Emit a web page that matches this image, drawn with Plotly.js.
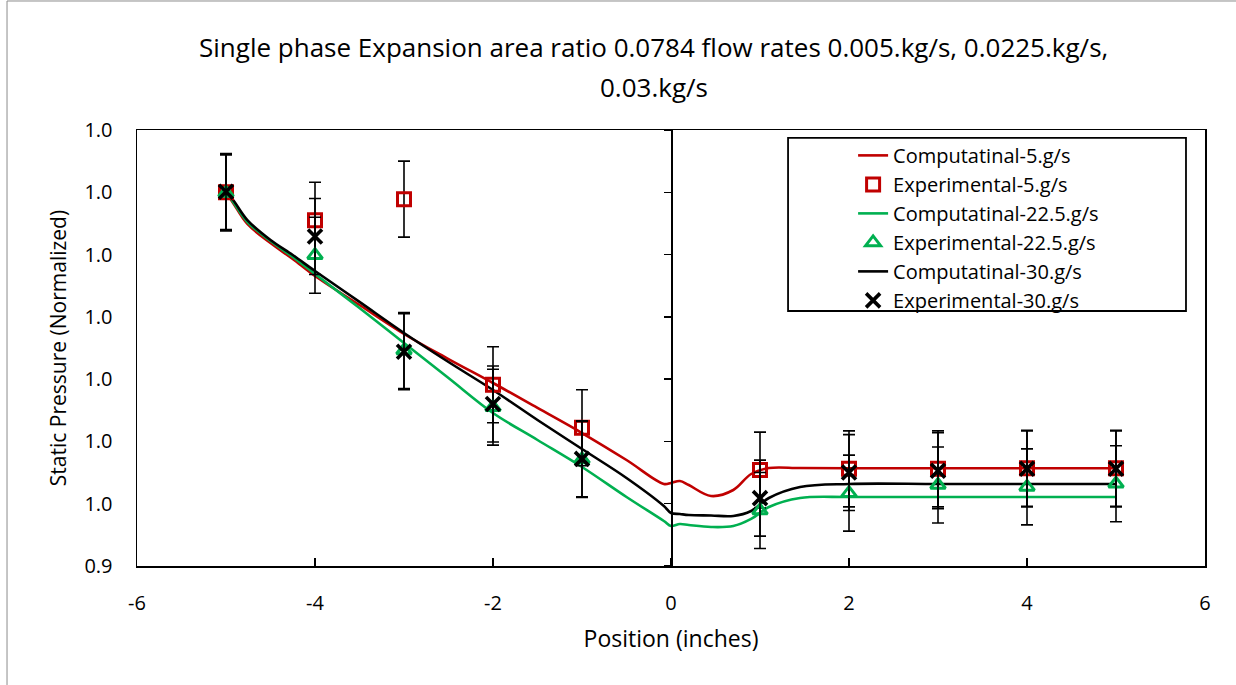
<!DOCTYPE html>
<html>
<head>
<meta charset="utf-8">
<script src="https://cdn.plot.ly/plotly-3.0.1.min.js"></script>
<style>html,body{margin:0;padding:0;background:#fff;}#chart{width:1236px;height:685px;}</style>
</head>
<body>
<div id="chart"></div>
<script>
// ---- Experimental data ----
const expX = [-5, -4, -3, -2, -1, 1, 2, 3, 4, 5];
const exp5 = [1.0000, 0.9955, 0.9989, 0.9691, 0.9622, 0.9554, 0.9556, 0.9556, 0.9557, 0.9557];
const exp225 = [0.9999, 0.9899, 0.9746, 0.9655, 0.9571, 0.9489, 0.9517, 0.9530, 0.9527, 0.9532];
const exp30 = [1.0001, 0.9929, 0.9744, 0.9660, 0.9572, 0.9509, 0.9550, 0.9553, 0.9556, 0.9556];
const err5 = [0.0061, 0.0061, 0.0061, 0.0061, 0.0061, 0.0061, 0.0061, 0.0061, 0.0061, 0.0061];
const err225 = [0.0061, 0.0061, 0.0061, 0.0061, 0.0061, 0.0061, 0.0061, 0.0061, 0.0061, 0.0061];
const err30 = [0.0061, 0.0061, 0.0061, 0.0061, 0.0061, 0.0061, 0.0061, 0.0061, 0.0061, 0.0061];

// ---- Computational curves ----
const compX = [-5, -4.92, -4.76, -4.5, -4.25, -4, -3.5, -3, -2.5, -2, -1.5, -1, -0.5, -0.08, 0, 0.1, 0.2, 0.45, 0.7, 0.9, 1.1, 1.45, 2, 3, 4, 5];
const comp5 = [1.0000, 0.99828, 0.99491, 0.99186, 0.98929, 0.98656, 0.98190, 0.97725, 0.97323, 0.96938, 0.96537, 0.96135, 0.95702, 0.95317, 0.95333, 0.95365, 0.95300, 0.95124, 0.95220, 0.95477, 0.95573, 0.95573, 0.9557, 0.9557, 0.9557, 0.9557];
const comp225 = [1.0000, 0.99844, 0.99523, 0.99218, 0.98961, 0.98688, 0.98142, 0.97580, 0.97018, 0.96456, 0.96023, 0.95590, 0.95108, 0.94722, 0.94642, 0.94674, 0.94658, 0.94626, 0.94642, 0.94755, 0.94947, 0.95092, 0.95108, 0.95108, 0.95108, 0.95108];
const comp30 = [1.0000, 0.99876, 0.99555, 0.99234, 0.98993, 0.98736, 0.98240, 0.97741, 0.97275, 0.96826, 0.96344, 0.95878, 0.95413, 0.94963, 0.94851, 0.94835, 0.94819, 0.94811, 0.94803, 0.94883, 0.95092, 0.95268, 0.95317, 0.95317, 0.95317, 0.95317];

// ---- Axis ticks ----
const xTickVals = [-6, -4, -2, 0, 2, 4, 6];
const xTickText = ["-6", "-4", "-2", "0", "2", "4", "6"];
const yTickVals = [0.94, 0.95, 0.96, 0.97, 0.98, 0.99, 1.00, 1.01];
const yTickText = ["0.9", "1.0", "1.0", "1.0", "1.0", "1.0", "1.0", "1.0"];

const RED = '#C00000', GREEN = '#00B050', BLACK = '#000000';
const FONT = '"Open Sans", "Noto Sans", sans-serif';

function errs(arr) {
  return {type: 'data', array: arr, visible: true, color: BLACK, thickness: 1.6, width: 6};
}

const traces = [
  {x: compX, y: comp5, mode: 'lines', name: 'Computatinal-5.g/s', legendrank: 1,
   line: {color: RED, width: 2.6, shape: 'spline', smoothing: 1.0}},
  {x: compX, y: comp225, mode: 'lines', name: 'Computatinal-22.5.g/s', legendrank: 3,
   line: {color: GREEN, width: 2.6, shape: 'spline', smoothing: 1.0}},
  {x: compX, y: comp30, mode: 'lines', name: 'Computatinal-30.g/s', legendrank: 5,
   line: {color: BLACK, width: 2.6, shape: 'spline', smoothing: 1.0}},
  {x: expX, y: exp5, mode: 'markers', name: 'Experimental-5.g/s', legendrank: 2,
   error_y: errs(err5),
   marker: {symbol: 'square-open', size: 13, color: RED, line: {color: RED, width: 3}}},
  {x: expX, y: exp225, mode: 'markers', name: 'Experimental-22.5.g/s', legendrank: 4,
   error_y: errs(err225),
   marker: {symbol: 'triangle-up-open', size: 13, color: GREEN, line: {color: GREEN, width: 3}}},
  {x: expX, y: exp30, mode: 'markers', name: 'Experimental-30.g/s', legendrank: 6,
   error_y: errs(err30),
   marker: {symbol: 'x-thin', size: 14, color: BLACK, line: {color: BLACK, width: 3.6}}},
  // invisible copy on the overlay axis so the x=0 vertical axis (with its ticks) is drawn
  {x: expX, y: exp30, yaxis: 'y2', mode: 'markers', showlegend: false, hoverinfo: 'skip',
   marker: {opacity: 0, size: 1}}
];

const layout = {
  width: 1236, height: 685,
  margin: {l: 137, r: 31, t: 130, b: 119},
  paper_bgcolor: '#ffffff', plot_bgcolor: '#ffffff',
  font: {family: FONT, size: 19, color: '#000'},
  showlegend: true,
  legend: {
    x: 0.6705, y: 0.9865, xanchor: 'left', yanchor: 'top',
    bgcolor: 'rgba(0,0,0,0)', borderwidth: 0,
    font: {family: FONT, size: 20, color: '#000'},
    traceorder: 'normal', itemwidth: 30
  },
  xaxis: {
    range: [-6, 6], tickvals: xTickVals, ticktext: xTickText, ticks: 'inside', ticklen: 8, tickwidth: 1.3, tickcolor: BLACK,
    showline: true, mirror: true, linecolor: BLACK, linewidth: 1.5,
    showgrid: false, zeroline: false, ticklabelstandoff: 18,
    tickfont: {family: FONT, size: 20},
    title: {text: 'Position (inches)', font: {family: FONT, size: 23}, standoff: 16}
  },
  yaxis: {
    range: [0.94, 1.01], tickvals: yTickVals, ticktext: yTickText, ticks: '',
    showline: true, mirror: true, linecolor: BLACK, linewidth: 1.5,
    showgrid: false, zeroline: false, ticklabelstandoff: 19,
    tickfont: {family: FONT, size: 20},
    title: {text: 'Static Pressure (Normalized)', font: {family: FONT, size: 21}, standoff: 12}
  },
  yaxis2: {
    overlaying: 'y', anchor: 'free', position: 0.5, side: 'left',
    range: [0.94, 1.01], tickvals: yTickVals, ticks: 'outside', ticklen: 7, tickwidth: 1.3, tickcolor: BLACK,
    showticklabels: false, showline: true, linecolor: BLACK, linewidth: 1.5,
    showgrid: false, zeroline: false
  },
  annotations: [
    {xref: 'paper', yref: 'paper', x: 0.484, y: 1.190, xanchor: 'center', yanchor: 'middle', showarrow: false,
     text: 'Single phase Expansion area ratio 0.0784 flow rates 0.005.kg/s, 0.0225.kg/s,',
     font: {family: FONT, size: 26, color: '#000'}},
    {xref: 'paper', yref: 'paper', x: 0.484, y: 1.0986, xanchor: 'center', yanchor: 'middle', showarrow: false,
     text: '0.03.kg/s', font: {family: FONT, size: 26, color: '#000'}}
  ],
  shapes: [
    // legend frame
    {type: 'rect', xref: 'paper', yref: 'paper', x0: 0.6096, x1: 0.9822, y0: 0.5849, y1: 0.982,
     line: {color: BLACK, width: 1.8}, fillcolor: 'rgba(0,0,0,0)'},
    // outer chart border (left and top edges)
    {type: 'path', xref: 'paper', yref: 'paper',
     path: 'M -0.1217 -0.2729 L -0.1217 1.2959 L 1.03 1.2959',
     line: {color: '#8c8c8c', width: 1}}
  ]
};

Plotly.newPlot('chart', traces, layout, {displayModeBar: false, staticPlot: true});
</script>
</body>
</html>
